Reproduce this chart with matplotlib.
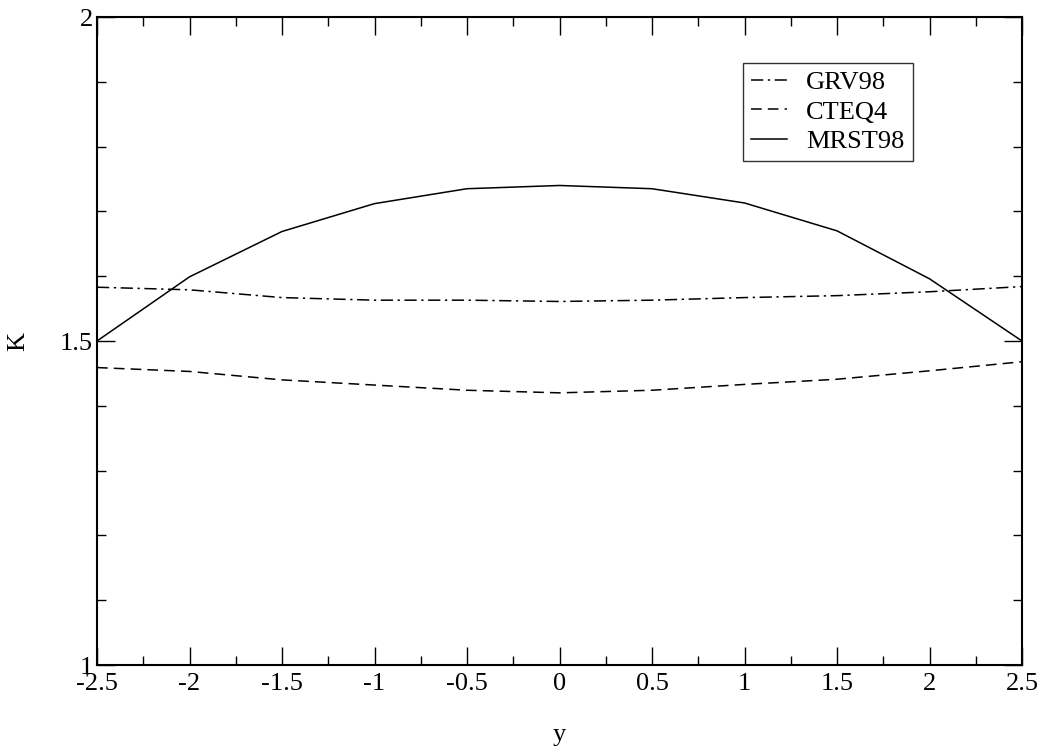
import matplotlib
matplotlib.use("Agg")
import matplotlib.pyplot as plt
from matplotlib.ticker import MultipleLocator, FuncFormatter

# values
rapidity = [-2.5, -2.0, -1.5, -1.0, -0.5, 0.0, 0.5, 1.0, 1.5, 2.0, 2.5]
k_grv98 = [1.583, 1.579, 1.567, 1.563, 1.563, 1.561, 1.563, 1.567, 1.570, 1.576, 1.584]
k_cteq4 = [1.459, 1.453, 1.440, 1.432, 1.424, 1.420, 1.424, 1.433, 1.441, 1.454, 1.468]
k_mrst98 = [1.500, 1.599, 1.669, 1.712, 1.735, 1.740, 1.735, 1.713, 1.670, 1.596, 1.500]

plt.rcParams.update({
    "font.family": ["Liberation Serif", "DejaVu Serif"],
    "font.size": 19,
})

W, H = 1040, 748
fig = plt.figure(figsize=(W / 100, H / 100), dpi=100)
ax = fig.add_axes([97 / W, 1 - 665 / H, (1022 - 97) / W, (665 - 17) / H])

ax.plot(rapidity, k_grv98, color="black", lw=1.1, ls=(0, (8, 3, 1.5, 3)), label="GRV98")
ax.plot(rapidity, k_cteq4, color="black", lw=1.1, ls=(0, (7, 4)), label="CTEQ4")
ax.plot(rapidity, k_mrst98, color="black", lw=1.1, ls="-", label="MRST98")

ax.set_xlim(-2.5, 2.5)
ax.set_ylim(1, 2)
ax.xaxis.set_major_locator(MultipleLocator(0.5))
ax.xaxis.set_minor_locator(MultipleLocator(0.25))
ax.yaxis.set_major_locator(MultipleLocator(0.5))
ax.yaxis.set_minor_locator(MultipleLocator(0.1))
ax.xaxis.set_major_formatter(FuncFormatter(lambda v, p: f"{v:g}"))
ax.yaxis.set_major_formatter(FuncFormatter(lambda v, p: f"{v:g}"))

ax.tick_params(which="both", direction="in", top=True, right=True, width=1.0, color="black")
ax.tick_params(which="major", length=13)
ax.tick_params(which="minor", length=6.5)
ax.tick_params(axis="x", which="major", pad=6)
ax.tick_params(axis="y", which="major", pad=3)
for s in ax.spines.values():
    s.set_linewidth(1.5)

ax.set_xlabel("y", labelpad=21)
ax.set_ylabel("K", labelpad=22)

leg = ax.legend(loc="upper left", bbox_to_anchor=(743 / W, 1 - 63 / H),
                bbox_transform=fig.transFigure, frameon=True, fancybox=False,
                handlelength=1.35, handletextpad=0.75, labelspacing=0.22,
                borderpad=0.3, borderaxespad=0)
leg.get_frame().set_edgecolor("black")
leg.get_frame().set_linewidth(1.0)

fig.savefig("out.png", dpi=100)
